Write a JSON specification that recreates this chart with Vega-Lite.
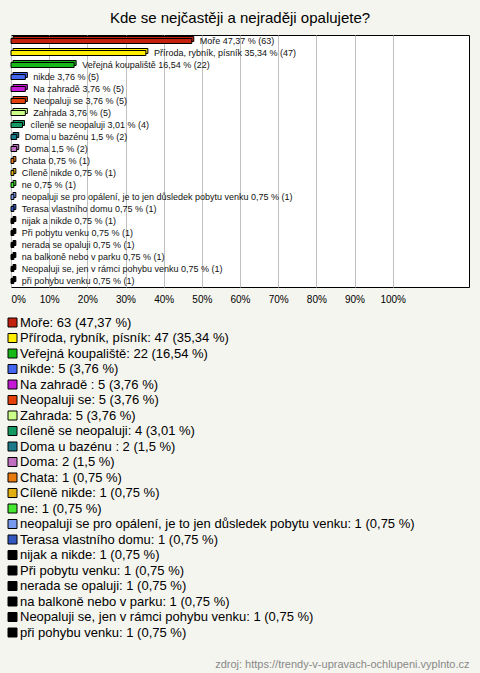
{
  "$schema": "https://vega.github.io/schema/vega-lite/v6.json",
  "width": 458,
  "height": 252,
  "autosize": {"type": "none"},
  "padding": {"left": 11, "top": 35, "right": 11, "bottom": 386},
  "background": "#f5f5ef",
  "title": {"text": "Kde se nejčastěji a nejraději opalujete?", "fontSize": 15, "font": "Liberation Sans", "fontWeight": "normal", "color": "#000000", "anchor": "middle", "offset": 9},
  "config": {
    "font": "Liberation Sans",
    "view": {"fill": "#ffffff", "stroke": "#000000", "strokeWidth": 1}
  },
  "data": {"values": [
    {"ord": 1, "cat": "Moře", "pct": 47.37, "label": "Moře 47,37 % (63)", "legend": "Moře: 63 (47,37 %)"},
    {"ord": 2, "cat": "Příroda, rybník, písník", "pct": 35.34, "label": "Příroda, rybník, písník 35,34 % (47)", "legend": "Příroda, rybník, písník: 47 (35,34 %)"},
    {"ord": 3, "cat": "Veřejná koupaliště", "pct": 16.54, "label": "Veřejná koupaliště 16,54 % (22)", "legend": "Veřejná koupaliště: 22 (16,54 %)"},
    {"ord": 4, "cat": "nikde", "pct": 3.76, "label": "nikde 3,76 % (5)", "legend": "nikde: 5 (3,76 %)"},
    {"ord": 5, "cat": "Na zahradě ", "pct": 3.76, "label": "Na zahradě  3,76 % (5)", "legend": "Na zahradě : 5 (3,76 %)"},
    {"ord": 6, "cat": "Neopaluji se", "pct": 3.76, "label": "Neopaluji se 3,76 % (5)", "legend": "Neopaluji se: 5 (3,76 %)"},
    {"ord": 7, "cat": "Zahrada", "pct": 3.76, "label": "Zahrada 3,76 % (5)", "legend": "Zahrada: 5 (3,76 %)"},
    {"ord": 8, "cat": "cíleně se neopaluji", "pct": 3.01, "label": "cíleně se neopaluji 3,01 % (4)", "legend": "cíleně se neopaluji: 4 (3,01 %)"},
    {"ord": 9, "cat": "Doma u bazénu ", "pct": 1.5, "label": "Doma u bazénu  1,5 % (2)", "legend": "Doma u bazénu : 2 (1,5 %)"},
    {"ord": 10, "cat": "Doma", "pct": 1.5, "label": "Doma 1,5 % (2)", "legend": "Doma: 2 (1,5 %)"},
    {"ord": 11, "cat": "Chata", "pct": 0.75, "label": "Chata 0,75 % (1)", "legend": "Chata: 1 (0,75 %)"},
    {"ord": 12, "cat": "Cíleně nikde", "pct": 0.75, "label": "Cíleně nikde 0,75 % (1)", "legend": "Cíleně nikde: 1 (0,75 %)"},
    {"ord": 13, "cat": "ne", "pct": 0.75, "label": "ne 0,75 % (1)", "legend": "ne: 1 (0,75 %)"},
    {"ord": 14, "cat": "neopaluji se pro opálení, je to jen důsledek pobytu venku", "pct": 0.75, "label": "neopaluji se pro opálení, je to jen důsledek pobytu venku 0,75 % (1)", "legend": "neopaluji se pro opálení, je to jen důsledek pobytu venku: 1 (0,75 %)"},
    {"ord": 15, "cat": "Terasa vlastního domu", "pct": 0.75, "label": "Terasa vlastního domu 0,75 % (1)", "legend": "Terasa vlastního domu: 1 (0,75 %)"},
    {"ord": 16, "cat": "nijak a nikde", "pct": 0.75, "label": "nijak a nikde 0,75 % (1)", "legend": "nijak a nikde: 1 (0,75 %)"},
    {"ord": 17, "cat": "Při pobytu venku", "pct": 0.75, "label": "Při pobytu venku 0,75 % (1)", "legend": "Při pobytu venku: 1 (0,75 %)"},
    {"ord": 18, "cat": "nerada se opaluji", "pct": 0.75, "label": "nerada se opaluji 0,75 % (1)", "legend": "nerada se opaluji: 1 (0,75 %)"},
    {"ord": 19, "cat": "na balkoně nebo v parku", "pct": 0.75, "label": "na balkoně nebo v parku 0,75 % (1)", "legend": "na balkoně nebo v parku: 1 (0,75 %)"},
    {"ord": 20, "cat": "Neopaluji se, jen v rámci pohybu venku", "pct": 0.75, "label": "Neopaluji se, jen v rámci pohybu venku 0,75 % (1)", "legend": "Neopaluji se, jen v rámci pohybu venku: 1 (0,75 %)"},
    {"ord": 21, "cat": "při pohybu venku", "pct": 0.75, "label": "při pohybu venku 0,75 % (1)", "legend": "při pohybu venku: 1 (0,75 %)"}
  ]},
  "encoding": {
    "y": {"field": "cat", "type": "nominal", "sort": {"field": "ord", "op": "min"}, "axis": null, "scale": {"paddingInner": 0, "paddingOuter": 0}},
    "x": {"field": "pct", "type": "quantitative", "scale": {"domain": [0, 120], "nice": false},
      "axis": {"values": [0, 10, 20, 30, 40, 50, 60, 70, 80, 90, 100], "labelExpr": "datum.value + '%'", "labelFontSize": 10, "labelColor": "#000000", "labelPadding": 7, "ticks": false, "domain": false, "gridColor": "#c0c0c0", "gridOpacity": 1,
        "title": "zdroj: https://trendy-v-upravach-ochlupeni.vyplnto.cz", "titleFontSize": 11, "titleFontWeight": "normal", "titleColor": "#888888", "titleAlign": "right", "titleAnchor": null, "titleX": 458, "titleY": 380, "titleBaseline": "alphabetic"}}
  },
  "layer": [
    {"mark": {"type": "bar", "size": 5, "stroke": "#000000", "strokeWidth": 1, "xOffset": 2, "yOffset": -2, "opacity": 1},
      "encoding": {"color": {"field": "legend", "type": "nominal", "sort": {"field": "ord", "op": "min"},
        "scale": {"range": ["#c4200e", "#ffee00", "#18b818", "#4466ee", "#c41ad6", "#e4400c", "#ccff88", "#139a62", "#1a7a8a", "#c070c0", "#e87a10", "#e0b010", "#44e830", "#7799ee", "#3358c0", "#000000", "#000000", "#000000", "#000000", "#000000", "#000000"]},
        "legend": {"orient": "none", "legendX": -5, "legendY": 281, "title": null, "padding": 0, "symbolType": "square", "symbolSize": 81, "symbolStrokeColor": "#000000", "symbolStrokeWidth": 1, "symbolOpacity": 1, "labelFontSize": 13, "labelColor": "#000000", "labelLimit": 600, "labelOffset": 1, "rowPadding": 1.5, "columns": 1}}}},
    {"mark": {"type": "bar", "size": 5, "stroke": "#000000", "strokeWidth": 1, "opacity": 1},
      "encoding": {"color": {"field": "legend", "type": "nominal", "sort": {"field": "ord", "op": "min"}}}},
    {"mark": {"type": "text", "align": "left", "baseline": "middle", "dx": 8, "fontSize": 9, "color": "#111111"},
      "encoding": {"text": {"field": "label"}}}
  ]
}
